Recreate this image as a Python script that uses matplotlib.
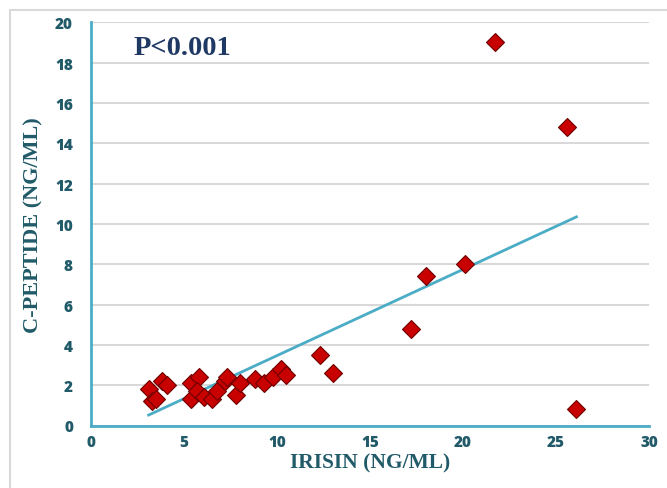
import numpy as np
import matplotlib
matplotlib.use("Agg")
import matplotlib.pyplot as plt
from matplotlib.patches import Rectangle

irisin = [3.1, 3.8, 4.1, 3.3, 3.5, 5.4, 5.8, 5.4, 5.7, 6.1, 6.5, 6.8, 7.2, 7.3,
          7.8, 8.0, 8.8, 9.3, 9.8, 10.2, 10.5, 12.3, 13.0, 17.2, 18.0, 20.1,
          21.7, 25.6, 26.1]
cpeptide = [1.8, 2.2, 2.0, 1.2, 1.3, 2.1, 2.4, 1.3, 1.7, 1.4, 1.3, 1.7, 2.2, 2.4,
            1.5, 2.1, 2.3, 2.1, 2.4, 2.8, 2.5, 3.5, 2.6, 4.8, 7.4, 8.0,
            19.0, 14.8, 0.8]
x_ticks = [0, 5, 10, 15, 20, 25, 30]
y_ticks = [0, 2, 4, 6, 8, 10, 12, 14, 16, 18, 20]
annotation = "P<0.001"
x_label = "IRISIN (NG/ML)"
y_label = "C-PEPTIDE (NG/ML)"

teal = "#4BACC6"
label_col = "#215A68"

fig = plt.figure(figsize=(6.67, 4.89), dpi=100)
fig.patches.append(Rectangle((10/667, -0.1), 1.2, 1 - 11/489 + 0.1, transform=fig.transFigure,
                             fill=False, edgecolor="#D9D9D9", linewidth=1.5))
ax = fig.add_axes([91/667, 1 - 426.5/489, (649 - 91)/667, (426.5 - 23.3)/489])

ax.set_xlim(0, 30)
ax.set_ylim(0, 20)
ax.set_xticks(x_ticks)
ax.set_yticks(y_ticks)
ax.grid(axis="y", color="#D9D9D9", linewidth=1.5)
ax.set_axisbelow(True)
for s in ["top", "right"]:
    ax.spines[s].set_visible(False)
for s in ["left", "bottom"]:
    ax.spines[s].set_color(teal)
    ax.spines[s].set_linewidth(2)
ax.tick_params(length=0, labelcolor=label_col)
ax.tick_params(axis="x", pad=6)
ax.tick_params(axis="y", pad=13)
for lab in ax.get_xticklabels() + ax.get_yticklabels():
    lab.set_fontfamily("Open Sans")
    lab.set_fontweight("heavy")
    lab.set_fontsize(11)

# trend line
xa = np.array(irisin)
ya = np.array(cpeptide)
m, b = np.polyfit(xa, ya, 1)
xl = np.array([xa.min(), xa.max()])
ax.plot(xl, m * xl + b, color=teal, linewidth=2, zorder=2)

ax.plot(irisin, cpeptide, linestyle="none", marker="D", markersize=9,
        markerfacecolor="#C80000", markeredgecolor="#6E0000", markeredgewidth=0.8, zorder=3)

ax.text(2.3, 18.73, annotation, fontfamily="Liberation Serif", fontweight="bold",
        fontsize=20.5, color="#1F3864", va="center", ha="left")

ax.set_xlabel(x_label, fontfamily="Liberation Serif", fontweight="bold", fontsize=15.5,
              color=label_col, labelpad=2)
ax.set_ylabel(y_label, fontfamily="Liberation Serif", fontweight="bold", fontsize=16,
              color=label_col, labelpad=8)

fig.savefig("out.png", dpi=100)
